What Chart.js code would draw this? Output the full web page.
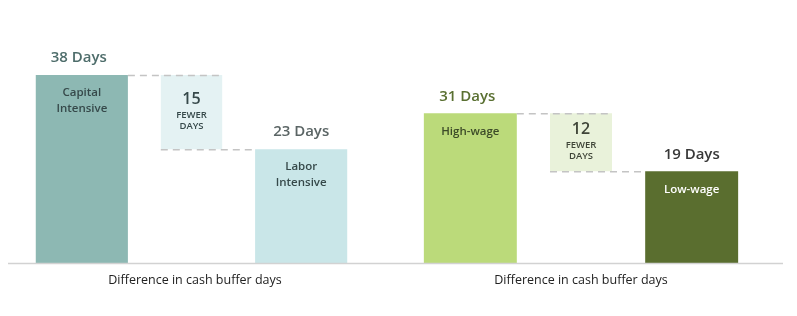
<!DOCTYPE html>
<html>
<head>
<meta charset="utf-8">
<script src="https://cdn.jsdelivr.net/npm/chart.js@4"></script>
<style>
body { margin: 0; background: #fff; width: 797px; height: 316px; overflow: hidden; position: relative; }
.panel { position: absolute; top: 0; height: 316px; }
</style>
</head>
<body>
<div class="panel" style="left:0;width:397px"><canvas id="capitalChart" width="397" height="316"></canvas></div>
<div class="panel" style="left:397px;width:400px"><canvas id="wageChart" width="400" height="316"></canvas></div>
<script>
var capitalLabels = [['Capital', 'Intensive'], ['Labor', 'Intensive']];
var capitalDays = [38, 23];
var wageLabels = [['High-wage'], ['Low-wage']];
var wageDays = [31, 19];
var AXIS_TITLE = 'Difference in cash buffer days';
var FONT = "'Open Sans', 'Noto Sans', sans-serif";

var capitalChart = createChart('capitalChart', {
    labels: capitalLabels,
    days: capitalDays,
    yMax: 40,
    colors: ['#8db8b3', '#e4f2f3', '#c9e6e8'],
    headColors: ['#4e6d6b', '#5b6565'],
    innerColors: ['#36494a', '#36494a'],
    diffColor: '#36494a',
    padLeft: 27,
    padRight: 41,
    lineFrom: 8,
    lineTo: 397,
    titleX: 195
});

var wageChart = createChart('wageChart', {
    labels: wageLabels,
    days: wageDays,
    yMax: 41,
    colors: ['#bbda7a', '#e9f2da', '#5a6e2f'],
    headColors: ['#5a7032', '#383838'],
    innerColors: ['#3c4a28', '#ffffff'],
    diffColor: '#3f4538',
    padLeft: 18,
    padRight: 50,
    lineFrom: 0,
    lineTo: 386,
    titleX: 184
});

function createChart(id, opts) {
    var hi = opts.days[0];
    var lo = opts.days[1];

    var annotations = {
        id: 'annotations',
        afterDatasetsDraw: function (chart) {
            var c = chart.ctx;
            var ends = chart.getDatasetMeta(0).data;
            var diff = chart.getDatasetMeta(1).data[1];
            var first = ends[0], last = ends[2];
            var base = chart.scales.y.getPixelForValue(0);

            c.save();
            // dashed connectors
            c.strokeStyle = '#c4c4c4';
            c.lineWidth = 1.5;
            c.setLineDash([7, 5]);
            c.beginPath();
            c.moveTo(first.x + first.width / 2, first.y + 0.5);
            c.lineTo(diff.x + diff.width / 2, first.y + 0.5);
            c.moveTo(diff.x - diff.width / 2, last.y + 0.5);
            c.lineTo(last.x - last.width / 2, last.y + 0.5);
            c.stroke();
            c.setLineDash([]);

            // baseline
            c.strokeStyle = '#d2d2d2';
            c.beginPath();
            c.moveTo(opts.lineFrom, base + 0.5);
            c.lineTo(opts.lineTo, base + 0.5);
            c.stroke();

            c.textAlign = 'center';
            c.textBaseline = 'middle';

            // values above bars
            c.font = '600 15px ' + FONT;
            c.fillStyle = opts.headColors[0];
            c.fillText(hi + ' Days', first.x - 3, first.y - 17);
            c.fillStyle = opts.headColors[1];
            c.fillText(lo + ' Days', last.x, last.y - 17);

            // labels inside bars
            c.font = '600 11.5px ' + FONT;
            [first, last].forEach(function (bar, i) {
                c.fillStyle = opts.innerColors[i];
                opts.labels[i].forEach(function (line, j) {
                    c.fillText(line, bar.x, bar.y + 18 + j * 16);
                });
            });

            // difference
            var mid = (diff.y + diff.base) / 2;
            c.fillStyle = opts.diffColor;
            c.font = '600 16px ' + FONT;
            c.fillText(String(hi - lo), diff.x, mid - 13);
            c.font = '600 9.5px ' + FONT;
            c.fillText('FEWER', diff.x, mid + 3);
            c.fillText('DAYS', diff.x, mid + 14);

            // axis title
            c.fillStyle = '#222222';
            c.font = '12.5px ' + FONT;
            c.fillText(AXIS_TITLE, opts.titleX, base + 17);
            c.restore();
        }
    };

    var ctx = document.getElementById(id).getContext('2d');
    return new Chart(ctx, {
        type: 'bar',
        data: {
            labels: [opts.labels[0].join(' '), 'difference', opts.labels[1].join(' ')],
            datasets: [{
                data: [[0, hi], null, [0, lo]],
                backgroundColor: [opts.colors[0], 'rgba(0,0,0,0)', opts.colors[2]],
                barPercentage: 0.84,
                categoryPercentage: 1,
                grouped: false
            }, {
                data: [null, [lo, hi], null],
                backgroundColor: opts.colors[1],
                barPercentage: 0.56,
                categoryPercentage: 1,
                grouped: false
            }]
        },
        options: {
            responsive: false,
            animation: false,
            layout: {
                padding: { left: opts.padLeft, right: opts.padRight, top: 65, bottom: 53 }
            },
            scales: {
                x: { display: false },
                y: { display: false, min: 0, max: opts.yMax }
            },
            plugins: {
                legend: { display: false },
                tooltip: { enabled: false }
            }
        },
        plugins: [annotations]
    });
}
</script>
</body>
</html>
